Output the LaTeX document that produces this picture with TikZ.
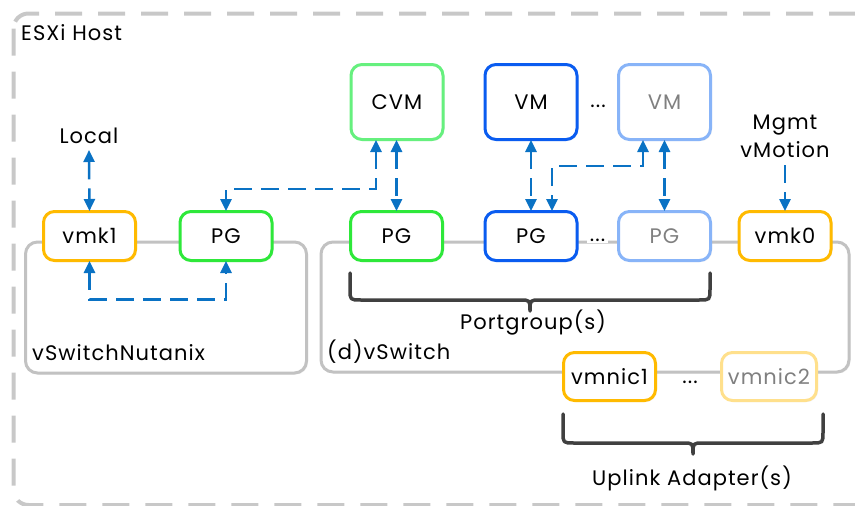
\documentclass[tikz,border=0pt]{standalone}
\usepackage{fontspec}
\setmainfont{Poppins}[LetterSpace=5]
\usetikzlibrary{arrows.meta,shadows,calc}
\definecolor{outerc}{HTML}{C8C8C8}
\definecolor{boxc}{HTML}{C2C2C2}
\definecolor{cvmc}{HTML}{66F07E}
\definecolor{pgc}{HTML}{2EE83A}
\definecolor{vmc}{HTML}{0A5CF0}
\definecolor{vmlc}{HTML}{88B4F8}
\definecolor{orc}{HTML}{FFBA00}
\definecolor{orlc}{HTML}{FFE08C}
\definecolor{arrc}{HTML}{0A72C4}
\definecolor{bracec}{HTML}{404040}
\definecolor{graytxt}{HTML}{808080}
\newcommand{\fsz}{\fontsize{21}{28}\selectfont}
\begin{document}
\begin{tikzpicture}[x=1pt,y=-1pt,
  font=\fsz,
  shd/.style={drop shadow={shadow xshift=1.5pt,shadow yshift=-1.5pt,opacity=0.12}},
  nd/.style={draw, line width=3pt, rounded corners=11pt, fill=white, minimum width=92pt, minimum height=49pt, inner sep=0pt, shd},
  big/.style={minimum height=75pt},
  swbox/.style={draw=boxc, line width=3pt, rounded corners=12pt, fill=white, shd},
  tipa/.tip={Triangle[length=12pt,width=11pt]},
  arr/.style={draw=arrc, line width=2.5pt, dash pattern=on 18pt off 9pt, tipa-tipa, shorten <=-1pt, shorten >=-1pt},
  arrone/.style={draw=arrc, line width=2.5pt, dash pattern=on 18pt off 9pt, -tipa, shorten >=-1pt},
  bracestyle/.style={draw=bracec, line width=3.5pt, line cap=round, line join=round},
  lbl/.style={inner sep=0pt}
]
\useasboundingbox (0,0) rectangle (855,506);
\begin{scope}
\clip (0,0) rectangle (855,506);
\draw[outerc, line width=4pt, dash pattern=on 27pt off 16pt, rounded corners=15pt] (13.5,13.5) rectangle (885,505);
\end{scope}

% switch boxes
\draw[swbox] (25.5,242) rectangle (306.5,373);
\draw[swbox] (321,242) rectangle (849,372);

% braces
\draw[bracestyle] (350,273) -- (350,289) .. controls (350,300) .. (361,300) -- (520,300) .. controls (530,300) .. (530,311) .. controls (530,300) .. (540,300) -- (699,300) .. controls (710,300) .. (710,289) -- (710,273);
\draw[bracestyle] (563,414) -- (563,432) .. controls (563,443) .. (574,443) -- (683,443) .. controls (693,443) .. (693,454) .. controls (693,443) .. (703,443) -- (812,443) .. controls (823,443) .. (823,432) -- (823,414);

% VM row
\node[nd, big, draw=cvmc] (CVM) at (397,102) {CVM};
\node[nd, big, draw=vmc] (VMa) at (531,102) {VM};
\node[nd, big, draw=vmlc, text=graytxt] (VMb) at (664.5,102) {VM};
\node[lbl] (dotsa) at (598,106) {...};

% port row
\node[nd, draw=orc] (vmk1) at (89.5,236) {vmk1};
\node[nd, draw=pgc] (PGa) at (226,236) {PG};
\node[nd, draw=pgc] (PGb) at (396.5,236) {PG};
\node[nd, draw=vmc] (PGc) at (531,236) {PG};
\node[lbl, fill=white, inner xsep=3pt, inner ysep=2pt] (dotsb) at (597.5,240) {...};
\node[nd, draw=vmlc, text=graytxt] (PGd) at (664.5,236) {PG};
\node[nd, draw=orc] (vmk0) at (785,236) {vmk0};

% uplinks
\node[nd, draw=orc, minimum height=48pt] (nic1) at (609.5,376.5) {vmnic1};
\node[nd, draw=orlc, text=graytxt, minimum height=48pt, minimum width=95pt] (nic2) at (769,376.5) {vmnic2};
\node[lbl] (dotsc) at (690,382) {...};

% labels
\node[lbl, anchor=west] (host) at (21,33) {ESXi Host};
\node[lbl] (local) at (89,136) {Local};
\node[lbl, align=center] (mgmt) at (785,136) {Mgmt\\vMotion};
\node[lbl, anchor=west] (nutlbl) at (32,353) {vSwitchNutanix};
\node[lbl, anchor=west] (dvlbl) at (327,352) {(d)vSwitch};
\node[lbl] (pglbl) at (533,323) {Portgroup(s)};
\node[lbl] (uplbl) at (692,478) {Uplink Adapter(s)};

\coordinate (lc) at (89,151);
\coordinate (mg) at (785,165);

% connectors
\draw[arr] (lc) -- (vmk1.north);
\draw[arr] (CVM.south -| PGb.north) -- (PGb.north);
\draw[arr] ([xshift=-21pt]CVM.south) -- ++(0,48) -| (PGa.north);
\draw[arr] (vmk1.south) -- ++(0,37.5) -| (PGa.south);
\draw[arr] (VMa.south) -- (PGc.north);
\draw[arr] (VMb.south) -- (PGd.north);
\draw[arr] ([xshift=-21.5pt]VMb.south) -- ++(0,25) -| ([xshift=21pt]PGc.north);
\draw[arrone] (mg) -- (vmk0.north);
\end{tikzpicture}
\end{document}
